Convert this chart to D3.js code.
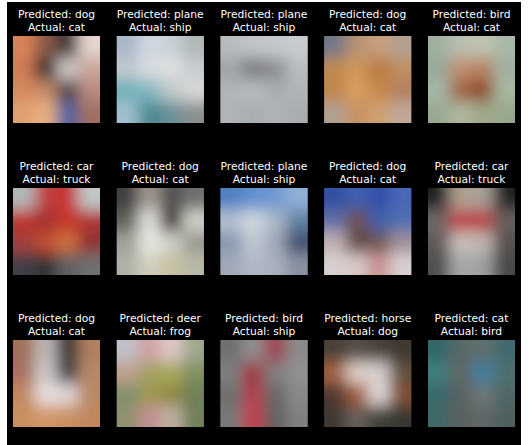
<!DOCTYPE html>
<head>
<meta charset="utf-8">
<style type="text/css">
    body { margin: 0; background: #fff; }
    svg { display: block; }
    text { font-family: "DejaVu Sans", sans-serif; }
</style>
</head>
<body>
<svg id="chart" width="529" height="445"></svg>
<script src="https://cdnjs.cloudflare.com/ajax/libs/d3/7.8.5/d3.min.js"></script>
<script>
    // labels per panel, row by row
    const predicted = ['dog', 'plane', 'plane', 'dog', 'bird',
                       'car', 'dog', 'plane', 'dog', 'car',
                       'dog', 'deer', 'bird', 'horse', 'cat'];
    const actual = ['cat', 'ship', 'ship', 'cat', 'cat',
                    'truck', 'cat', 'ship', 'cat', 'truck',
                    'cat', 'frog', 'ship', 'dog', 'bird'];

    // coarse 4x4 colour read of each thumbnail (rows top to bottom)
    const thumbs = [
        ['#d9825a','#8a5a48','#3a3030','#e6d6d0', '#d07a55','#2a2528','#d0c8c4','#c9a59a', '#d58a5c','#c58a6a','#4a4448','#b88a80', '#e0a070','#e8b080','#5060a0','#a07060'],
        ['#a8b8c8','#d0d8e0','#c8d0d8','#b0b8b8', '#c0c8d0','#d8dce0','#e0e0e0','#c8ccd0', '#70b0b8','#80b8c0','#c0c8c8','#d8d8d8', '#a0c0d0','#4a8890','#6a9098','#8a9090'],
        ['#b8bcc0','#c0c4c8','#c4c8cc','#c8ccd0', '#a0a4a8','#7a7c80','#8a8c90','#b8bcc0', '#b0b4b8','#b8bcc0','#a8acb0','#b0b4b8', '#b0b4b8','#a8acb0','#b0b4b8','#a8acb0'],
        ['#707888','#b89070','#c8a080','#b0a090', '#c08850','#d09858','#b87840','#c09060', '#c08448','#d8a060','#c88848','#b08060', '#b0a090','#c89060','#d0a070','#c0a898'],
        ['#a0b0a0','#b8c0b0','#c0c4b0','#a8b8a8', '#98a898','#c09070','#b88060','#a0b0a0', '#a8b8a8','#a06040','#904828','#a8b8a0', '#98a890','#b0b8a0','#a0a888','#98a890'],
        ['#b0b8b8','#c04040','#c83030','#c0c8c8', '#c03028','#a03030','#c83828','#b03030', '#a04040','#c05030','#d07040','#903030', '#404048','#303030','#606060','#707070'],
        ['#404040','#a09890','#505050','#707070', '#606058','#e0e0dc','#382c28','#d0d0c8', '#a0a098','#e8e8e4','#d0d0c8','#9a9890', '#b0b0a8','#d0d0c0','#c8c0a0','#b8b8a8'],
        ['#5080c0','#6090d0','#7098d0','#90b0d8', '#b0c0d0','#d0d8e0','#a8b8c8','#6080a0', '#8898b0','#c0c8d0','#a0a8b8','#405070', '#a0a8b8','#b0b8c8','#a8b0c0','#8890a0'],
        ['#3050a0','#4060b0','#3050a8','#4868b8', '#6070a8','#705048','#4060a8','#5070b0', '#c0b0b0','#604848','#705850','#a09098', '#d8d0d0','#d8c8c8','#c89090','#d8d0d0'],
        ['#202020','#b0a090','#a8a098','#202020', '#706868','#c04048','#b84048','#686060', '#605858','#c8c0b8','#c0b8b0','#585050', '#505050','#a8a8a8','#a0a0a0','#484848'],
        ['#a07058','#c0b8b8','#303030','#b08060', '#a87060','#d0c8c8','#404048','#b88868', '#c08860','#e8e0e0','#e0d8d8','#b88860', '#c89060','#d09868','#c89060','#c08860'],
        ['#c0c0c8','#d0a0a0','#e0c8c8','#a0a890', '#c0a090','#a0a060','#a8a858','#809060', '#80906a','#a09850','#908840','#708058', '#909070','#c09090','#c0b0a0','#708058'],
        ['#707070','#909090','#a04050','#8a8a8a', '#808080','#a03040','#808080','#909090', '#707070','#b04050','#686868','#888888', '#787878','#c04050','#606060','#808080'],
        ['#484038','#585048','#484038','#403830', '#a06040','#e0d0c8','#d8d0d0','#605040', '#503830','#a05830','#e0d8d8','#805030', '#403830','#686058','#404038','#383830'],
        ['#306868','#5a6868','#607070','#406a70', '#408080','#606860','#4080a0','#507070', '#386a6a','#5a6060','#707878','#506868', '#406868','#5a6060','#606868','#506060']
    ];

    const nCols = 5, nRows = 3, grid = 4;

    const svg = d3.select('#chart');

    // figure background
    svg.append('rect')
        .attr('x', 7).attr('y', 2)
        .attr('width', 514).attr('height', 443)
        .attr('fill', '#000');

    const defs = svg.append('defs');
    defs.append('filter')
        .attr('id', 'soft')
        .attr('x', '-25%').attr('y', '-25%')
        .attr('width', '150%').attr('height', '150%')
        .append('feGaussianBlur')
        .attr('stdDeviation', 7.5);

    const col = d3.scaleBand().domain(d3.range(nCols)).range([13, 515]).paddingInner(0.161);
    const row = d3.scaleBand().domain(d3.range(nRows)).range([36, 427]).paddingInner(0.428);

    const panels = svg.selectAll('g.panel')
        .data(thumbs.map((t, i) => ({ t, i, pred: predicted[i], act: actual[i] })))
        .join('g')
        .attr('class', 'panel')
        .attr('transform', d => `translate(${col(d.i % nCols)},${row(Math.floor(d.i / nCols))})`);

    const w = col.bandwidth(), h = row.bandwidth();
    const cx = d3.scaleBand().domain(d3.range(grid)).range([0, w]);
    const cy = d3.scaleBand().domain(d3.range(grid)).range([0, h]);

    panels.each(function (d) {
        const g = d3.select(this);
        const clipId = 'clip' + d.i;
        defs.append('clipPath').attr('id', clipId)
            .append('rect').attr('width', w).attr('height', h);

        const body = g.append('g').attr('clip-path', `url(#${clipId})`);
        const cells = d.t.map((c, k) => ({ c, r: Math.floor(k / grid), q: k % grid }));

        // flat cells underneath
        body.selectAll('rect.cell')
            .data(cells)
            .join('rect')
            .attr('class', 'cell')
            .attr('x', e => cx(e.q)).attr('y', e => cy(e.r))
            .attr('width', cx.bandwidth() + 0.5).attr('height', cy.bandwidth() + 0.5)
            .attr('fill', e => e.c);

        // blurred copy on top, edge cells pushed past the border
        const m = 20;
        body.append('g').attr('filter', 'url(#soft)')
            .selectAll('rect')
            .data(cells)
            .join('rect')
            .attr('x', e => cx(e.q) - (e.q === 0 ? m : 0))
            .attr('y', e => cy(e.r) - (e.r === 0 ? m : 0))
            .attr('width', e => cx.bandwidth() + 0.5 + (e.q === 0 ? m : 0) + (e.q === grid - 1 ? m : 0))
            .attr('height', e => cy.bandwidth() + 0.5 + (e.r === 0 ? m : 0) + (e.r === grid - 1 ? m : 0))
            .attr('fill', e => e.c);

        const title = g.append('text')
            .attr('x', w / 2)
            .attr('text-anchor', 'middle')
            .attr('fill', '#fff')
            .attr('font-size', '10.7px');
        title.append('tspan').attr('x', w / 2).attr('y', -18).text('Predicted: ' + d.pred);
        title.append('tspan').attr('x', w / 2).attr('y', -5).text('Actual: ' + d.act);
    });
</script>
</body>
</html>
